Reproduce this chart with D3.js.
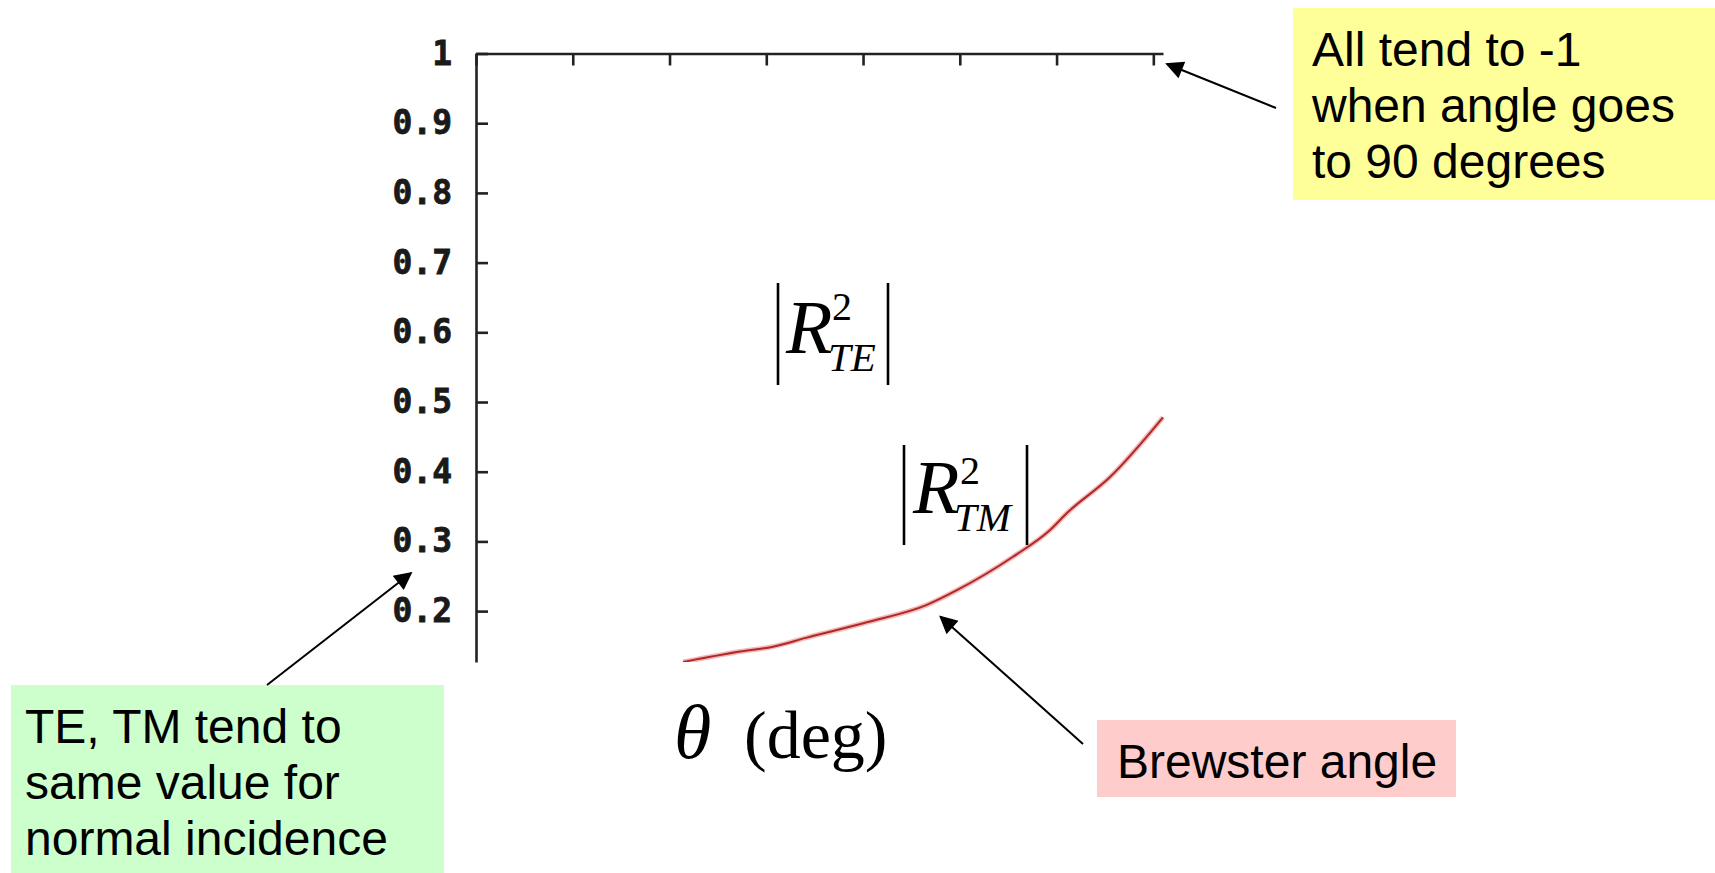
<!DOCTYPE html>
<html>
<head>
<meta charset="utf-8">
<script src="https://cdn.jsdelivr.net/npm/d3@7"></script>
<style>
  html, body { margin: 0; padding: 0; background: #ffffff; }
  svg { display: block; }
</style>
</head>
<body>
<svg id="chart" width="1715" height="873"></svg>
<script>
// Reflectance |R_TM|^2 versus angle of incidence (visible part of the curve)
const thetaDeg = [21.4, 27.3, 30.7, 34.2, 40.4, 46.6, 49.7, 55.5, 59.3, 61.1, 65.5, 71.0];
const reflTM   = [0.127, 0.142, 0.149, 0.162, 0.184, 0.209, 0.230, 0.278, 0.316, 0.341, 0.392, 0.478];

// Axis ticks
const yTicks = [1, 0.9, 0.8, 0.7, 0.6, 0.5, 0.4, 0.3, 0.2];
const xTicks = [0, 10, 20, 30, 40, 50, 60, 70];

// Callout notes
const noteYellow = ["All tend to -1", "when angle goes", "to 90 degrees"];
const noteGreen  = ["TE, TM tend to", "same value for", "normal incidence"];
const notePink   = ["Brewster angle"];

const svg = d3.select("#chart");
const plot = { left: 476, right: 1163, top: 53.5, bottom: 662 };

const x = d3.scaleLinear().domain([0, 71]).range([plot.left, plot.right]);
const y = d3.scaleLinear().domain([0.127, 1]).range([plot.bottom, plot.top]);

// Arrow head marker
const defs = svg.append("defs");
defs.append("marker")
  .attr("id", "head")
  .attr("viewBox", "0 0 10 10")
  .attr("refX", 9).attr("refY", 5)
  .attr("markerUnits", "userSpaceOnUse")
  .attr("markerWidth", 24).attr("markerHeight", 18)
  .attr("orient", "auto")
  .append("path")
  .attr("d", "M0,0 L10,5 L0,10 Z")
  .attr("fill", "#000");

defs.append("clipPath").attr("id", "plotClip")
  .append("rect")
  .attr("x", plot.left).attr("y", plot.top - 20)
  .attr("width", plot.right - plot.left + 2)
  .attr("height", plot.bottom - plot.top + 20);

// Axes
const axisFont = "'DejaVu Sans Mono', 'Liberation Mono', monospace";
const yAxis = svg.append("g")
  .attr("transform", `translate(${plot.left},0)`)
  .call(d3.axisLeft(y).tickValues(yTicks)
    .tickFormat(v => v === 1 ? "1" : v.toFixed(1))
    .tickSizeInner(-12).tickSizeOuter(0).tickPadding(24));
yAxis.select(".domain").attr("stroke", "#222").attr("stroke-width", 2.6);
yAxis.selectAll(".tick line").attr("stroke", "#222").attr("stroke-width", 2.6);
yAxis.selectAll(".tick text")
  .attr("fill", "#1a1a1a")
  .attr("stroke", "#1a1a1a").attr("stroke-width", 0.8)
  .style("font-family", axisFont)
  .style("font-weight", "bold")
  .style("font-size", "33px");

const xAxis = svg.append("g")
  .attr("transform", `translate(0,${plot.top})`)
  .call(d3.axisTop(x).tickValues(xTicks).tickFormat("")
    .tickSizeInner(-12).tickSizeOuter(0));
xAxis.select(".domain").attr("stroke", "#222").attr("stroke-width", 2.6);
xAxis.selectAll(".tick line").attr("stroke", "#222").attr("stroke-width", 2.6);

// Curve
const pts = thetaDeg.map((t, i) => [t, reflTM[i]]);
const line = d3.line().x(d => x(d[0])).y(d => y(d[1])).curve(d3.curveMonotoneX);
const curveG = svg.append("g").attr("clip-path", "url(#plotClip)");
curveG.append("path").datum(pts)
  .attr("d", line).attr("fill", "none")
  .attr("stroke", "#f0a0a0").attr("stroke-width", 5).attr("stroke-opacity", 0.75)
  .attr("stroke-linejoin", "round");
curveG.append("path").datum(pts)
  .attr("d", line).attr("fill", "none")
  .attr("stroke", "#b02828").attr("stroke-width", 2)
  .attr("stroke-linejoin", "round");

// |R^2| labels
const serif = "'Liberation Serif', 'Times New Roman', serif";
function absLabel(bx0, bx1, by0, by1, rx, rBase, supX, supBase, subX, subBase, sub) {
  const g = svg.append("g");
  [bx0, bx1].forEach(bx => g.append("line")
    .attr("x1", bx).attr("x2", bx).attr("y1", by0).attr("y2", by1)
    .attr("stroke", "#000").attr("stroke-width", 2.6));
  g.append("text").attr("x", rx).attr("y", rBase)
    .style("font-family", serif).style("font-style", "italic").style("font-size", "76px")
    .text("R");
  g.append("text").attr("x", supX).attr("y", supBase)
    .style("font-family", serif).style("font-size", "40px")
    .text("2");
  g.append("text").attr("x", subX).attr("y", subBase)
    .style("font-family", serif).style("font-style", "italic").style("font-size", "41px")
    .text(sub);
}
absLabel(778, 888, 283, 385, 786, 353, 832, 320, 828, 371, "TE");
absLabel(904, 1027, 445, 545, 913, 513, 960, 484, 954, 531, "TM");

// Axis title
const title = svg.append("text").attr("y", 758)
  .style("font-family", serif).style("font-size", "68px");
title.append("tspan").attr("x", 674).style("font-style", "italic").style("font-size", "76px").text("θ");
title.append("tspan").attr("x", 744).text("(deg)");

// Callout boxes
const sans = "'Liberation Sans', Arial, sans-serif";
function note(lines, bx, by, bw, bh, fill, tx, baselines, size) {
  svg.append("rect").attr("x", bx).attr("y", by).attr("width", bw).attr("height", bh)
    .attr("fill", fill);
  lines.forEach((s, i) => svg.append("text")
    .attr("x", tx).attr("y", baselines[i])
    .style("font-family", sans).style("font-size", size + "px").attr("fill", "#000")
    .text(s));
}
note(noteYellow, 1293, 8, 422, 192, "#ffff99", 1312, [66, 122, 178], 48);
note(noteGreen, 11, 685, 433, 188, "#ccffcc", 25, [743, 799, 855], 48);
note(notePink, 1097, 720, 359, 77, "#ffcccc", 1117, [778], 48);

// Arrows from notes to the chart
function arrow(x1, y1, x2, y2) {
  svg.append("line").attr("x1", x1).attr("y1", y1).attr("x2", x2).attr("y2", y2)
    .attr("stroke", "#000").attr("stroke-width", 2)
    .attr("marker-end", "url(#head)");
}
arrow(1276, 108, x(71.4), y(0.985));
arrow(267, 685, 411, 573);
arrow(1083, 744, x(48), y(0.192));
</script>
</body>
</html>
